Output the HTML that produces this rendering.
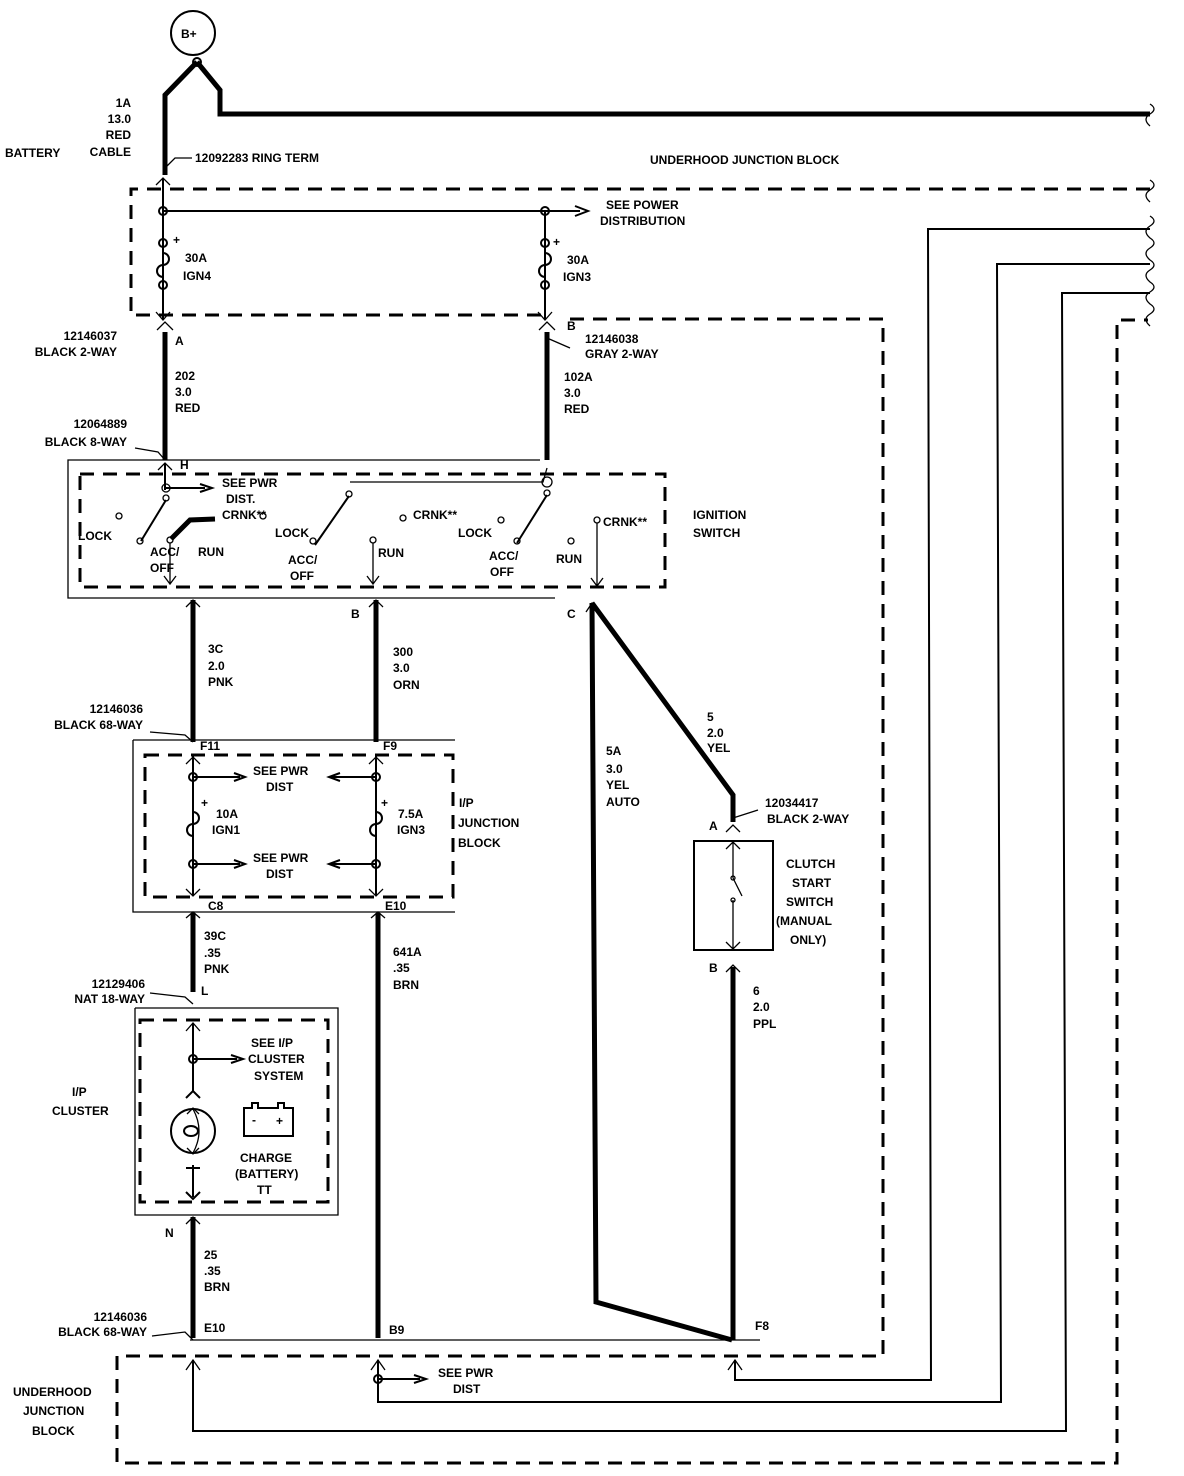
<!DOCTYPE html>
<html><head><meta charset="utf-8"><style>
html,body{margin:0;padding:0;background:#fff}
svg{display:block}
text{font-family:"Liberation Sans",sans-serif;font-weight:bold;font-size:12px;fill:#000}
.t{stroke:#000;stroke-width:5;fill:none}
.m{stroke:#000;stroke-width:2;fill:none}
.n{stroke:#000;stroke-width:1.3;fill:none}
.d{stroke:#000;stroke-width:3;fill:none;stroke-dasharray:14 9}
</style></head><body>
<svg width="1184" height="1476" viewBox="0 0 1184 1476" xmlns="http://www.w3.org/2000/svg">
<!-- B+ -->
<circle cx="193" cy="33" r="22" class="m" stroke-width="3"/>
<text x="181" y="38" font-size="13">B+</text>
<circle cx="197" cy="62" r="4" class="m"/>
<path class="t" d="M197 62 L165 95 L165 175"/>
<path class="t" d="M197 62 L220 90 L220 114 L1150 114"/>
<path class="n" d="M1150 104 q8 5 0 10 q-8 5 0 12"/>
<text x="131" y="107" text-anchor="end">1A</text>
<text x="131" y="123" text-anchor="end">13.0</text>
<text x="131" y="139" text-anchor="end">RED</text>
<text x="131" y="156" text-anchor="end">CABLE</text>
<text x="5" y="157">BATTERY</text>
<path class="n" d="M165 168 L175 158 L192 158"/>
<text x="195" y="162">12092283  RING TERM</text>
<text x="650" y="164" font-size="13">UNDERHOOD JUNCTION BLOCK</text>

<!-- underhood dashed outline -->
<path class="d" d="M1150 189 L131 189 L131 315 L545 315"/>
<path class="d" d="M570 319 L883 319 L883 1356 L117 1356 L117 1463 L1117 1463 L1117 320 L1148 320"/>
<path class="n" d="M1150 180 q8 5 0 10 q-8 5 0 12 M1150 216 q8 5 0 10 q-8 5 0 12 q8 5 0 10 q-8 5 0 12 q8 5 0 10 q-8 5 0 12 q8 5 0 10 q-8 5 0 12 q8 5 0 10 q-8 5 0 12"/>
<!-- nested right wires -->
<path class="m" d="M1150 229 L928 229 L931 1380 L735 1380 L735 1360"/>
<path class="m" d="M1150 264 L997 264 L1001 1402 L378 1402 L378 1360"/>
<path class="m" d="M1150 293 L1062 293 L1066 1431 L193 1431 L193 1360"/>
<path class="n" d="M728 1370 L735 1360 L742 1370 M371 1370 L378 1360 L385 1370 M186 1370 L193 1360 L200 1370"/>

<!-- fuses top -->
<path class="m" d="M163 178 L163 320"/>
<path class="n" d="M156 185 L163 178 L170 185"/>
<circle cx="163" cy="211" r="4" class="m" fill="#fff"/>
<path class="m" d="M163 211 L580 211"/><path class="m" d="M575 206 L588 211 L575 216"/>
<text x="606" y="209">SEE POWER</text><text x="600" y="225">DISTRIBUTION</text>
<circle cx="545" cy="211" r="4" class="m" fill="#fff"/>
<path class="m" d="M545 211 L545 320"/>
<text x="173" y="244" font-size="16">+</text><text x="553" y="246" font-size="16">+</text>
<circle cx="163" cy="243" r="4" class="m" fill="#fff"/><circle cx="545" cy="243" r="4" class="m" fill="#fff"/>
<path class="m" d="M163 247 v6 a6 6 0 0 1 0 12 a6 6 0 0 0 0 12 v4"/>
<path class="m" d="M545 247 v6 a6 6 0 0 1 0 12 a6 6 0 0 0 0 12 v4"/>
<circle cx="163" cy="285" r="4" class="m" fill="#fff"/><circle cx="545" cy="285" r="4" class="m" fill="#fff"/>
<text x="185" y="262">30A</text><text x="183" y="280">IGN4</text>
<text x="567" y="264">30A</text><text x="563" y="281">IGN3</text>
<path class="n" d="M156 312 L163 320 L170 312 M538 312 L545 320 L552 312"/>

<!-- connectors A/B -->
<path class="n" d="M157 330 L165 322 L173 330 M539 330 L547 322 L555 330"/>
<text x="175" y="345">A</text><text x="567" y="330">B</text>
<text x="117" y="340" text-anchor="end">12146037</text><text x="117" y="356" text-anchor="end">BLACK 2-WAY</text>
<path class="n" d="M547 338 L570 348"/>
<text x="585" y="343">12146038</text><text x="585" y="358">GRAY 2-WAY</text>
<path class="t" d="M165 332 L165 460"/><path class="t" d="M547 332 L547 460"/>
<text x="175" y="380">202</text><text x="175" y="396">3.0</text><text x="175" y="412">RED</text>
<text x="564" y="381">102A</text><text x="564" y="397">3.0</text><text x="564" y="413">RED</text>
<text x="127" y="428" text-anchor="end">12064889</text><text x="127" y="446" text-anchor="end">BLACK 8-WAY</text>
<path class="n" d="M135 448 L158 452 L165 460"/>

<!-- ignition switch -->
<path class="n" d="M540 460 L68 460 L68 598 L555 598"/>
<rect x="80" y="474" width="585" height="113" class="d" stroke-width="2.5" stroke-dasharray="12 8"/>
<text x="180" y="469">H</text>
<path class="n" d="M158 470 L165 463 L172 470"/>
<path class="m" d="M165 463 L165 490"/>
<circle cx="166" cy="488" r="4" class="n"/>
<path class="m" d="M166 488 L205 488"/><path class="m" d="M200 484 L212 488 L200 492"/>
<text x="222" y="487" font-size="11">SEE PWR</text><text x="226" y="503" font-size="11">DIST.</text><text x="222" y="519" font-size="11">CRNK**</text>
<circle cx="166" cy="498" r="3" class="n"/>
<path class="m" d="M166 500 L141 541"/>
<circle cx="119" cy="516" r="3" class="n"/><text x="78" y="540">LOCK</text>
<circle cx="140" cy="541" r="3" class="n"/><text x="150" y="556">ACC/</text><text x="150" y="572">OFF</text>
<path class="t" stroke-width="4" d="M171 539 L190 520 L215 519"/>
<circle cx="170" cy="540" r="3" class="n"/>
<path class="n" d="M170 543 L170 583 M164 576 L170 584 L176 576"/>
<text x="198" y="556">RUN</text>
<circle cx="263" cy="516" r="3" class="n"/><text x="275" y="537">LOCK</text>
<path class="n" d="M350 482 L543 482 L547 468"/>
<circle cx="547" cy="482" r="5" class="n"/>
<circle cx="349" cy="494" r="3" class="n"/>
<path class="m" d="M349 496 L315 545"/><circle cx="313" cy="541" r="3" class="n"/>
<text x="288" y="564">ACC/</text><text x="290" y="580">OFF</text>
<circle cx="373" cy="540" r="3" class="n"/>
<path class="n" d="M373 543 L373 583 M367 576 L373 584 L379 576"/>
<text x="378" y="557">RUN</text>
<circle cx="403" cy="518" r="3" class="n"/><text x="413" y="519" font-size="11">CRNK**</text>
<circle cx="501" cy="520" r="3" class="n"/><text x="458" y="537">LOCK</text>
<circle cx="547" cy="493" r="3" class="n"/>
<path class="m" d="M547 495 L517 543"/><circle cx="517" cy="541" r="3" class="n"/>
<text x="489" y="560">ACC/</text><text x="490" y="576">OFF</text>
<circle cx="571" cy="541" r="3" class="n"/><text x="556" y="563">RUN</text>
<circle cx="597" cy="520" r="3" class="n"/>
<path class="n" d="M597 523 L597 585 M591 578 L597 586 L603 578"/>
<text x="603" y="526" font-size="11">CRNK**</text>
<text x="693" y="519" font-weight="normal" font-size="14">IGNITION</text><text x="693" y="537" font-weight="normal" font-size="14">SWITCH</text>

<!-- below switch -->
<path class="n" d="M186 607 L193 600 L200 607 M369 607 L376 600 L383 607"/>
<path class="t" d="M193 600 L193 742"/><path class="t" d="M376 600 L376 742"/>
<text x="351" y="618">B</text><text x="567" y="618">C</text>
<text x="208" y="653">3C</text><text x="208" y="670">2.0</text><text x="208" y="686">PNK</text>
<text x="393" y="656">300</text><text x="393" y="672">3.0</text><text x="393" y="689">ORN</text>
<path class="t" d="M592 603 L733 795 L733 822"/>
<path class="t" d="M592 603 L596 1302 L732 1340"/>
<path class="n" d="M586 612 L592 603 L598 612"/>
<text x="606" y="755">5A</text><text x="606" y="773">3.0</text><text x="606" y="789">YEL</text><text x="606" y="806">AUTO</text>
<text x="707" y="721">5</text><text x="707" y="737">2.0</text><text x="707" y="752">YEL</text>

<!-- I/P junction block -->
<text x="143" y="713" text-anchor="end">12146036</text><text x="143" y="729" text-anchor="end">BLACK 68-WAY</text>
<path class="n" d="M150 732 L185 735 L193 742"/>
<path class="n" d="M133 740 L133 912 L455 912 M133 740 L455 740"/>
<rect x="145" y="755" width="308" height="142" class="d" stroke-width="2.5" stroke-dasharray="12 8"/>
<text x="200" y="750">F11</text><text x="383" y="750">F9</text>
<path class="m" d="M193 755 L193 895 M376 755 L376 895"/>
<path class="n" d="M186 764 L193 757 L200 764 M369 764 L376 757 L383 764 M186 889 L193 896 L200 889 M369 889 L376 896 L383 889"/>
<circle cx="193" cy="777" r="4" class="m" fill="#fff"/><circle cx="376" cy="777" r="4" class="m" fill="#fff"/>
<path class="m" d="M193 777 L240 777 M234 773 L245 777 L234 781"/>
<path class="m" d="M376 777 L330 777 M340 773 L329 777 L340 781"/>
<text x="253" y="775">SEE PWR</text><text x="266" y="791">DIST</text>
<path class="m" d="M193 808 v4 a6 6 0 0 1 0 12 a6 6 0 0 0 0 12 v4" fill="#fff"/>
<path class="m" d="M376 808 v4 a6 6 0 0 1 0 12 a6 6 0 0 0 0 12 v4" fill="#fff"/>
<text x="201" y="807" font-size="16">+</text><text x="381" y="807" font-size="16">+</text>
<text x="216" y="818">10A</text><text x="212" y="834">IGN1</text>
<text x="398" y="818">7.5A</text><text x="397" y="834">IGN3</text>
<circle cx="193" cy="864" r="4" class="m" fill="#fff"/><circle cx="376" cy="864" r="4" class="m" fill="#fff"/>
<path class="m" d="M193 864 L240 864 M234 860 L245 864 L234 868"/>
<path class="m" d="M376 864 L330 864 M340 860 L329 864 L340 868"/>
<text x="253" y="862">SEE PWR</text><text x="266" y="878">DIST</text>
<text x="459" y="807" font-weight="normal" font-size="14">I/P</text><text x="458" y="827" font-weight="normal" font-size="14">JUNCTION</text><text x="458" y="847" font-weight="normal" font-size="14">BLOCK</text>
<text x="208" y="910">C8</text><text x="385" y="910">E10</text>
<path class="n" d="M186 918 L193 912 L200 918 M371 918 L378 912 L385 918"/>
<path class="t" d="M193 913 L193 992"/><path class="t" d="M378 913 L378 1338"/>
<text x="204" y="940">39C</text><text x="204" y="957">.35</text><text x="204" y="973">PNK</text>
<text x="393" y="956">641A</text><text x="393" y="972">.35</text><text x="393" y="989">BRN</text>
<text x="145" y="988" text-anchor="end">12129406</text><text x="145" y="1003" text-anchor="end">NAT 18-WAY</text>
<path class="n" d="M150 993 L185 997 L193 1004"/>
<text x="201" y="995">L</text>

<!-- cluster -->
<path class="n" d="M135 1008 L338 1008 L338 1215 L135 1215 L135 1008"/>
<rect x="140" y="1020" width="188" height="182" class="d" stroke-width="2.5" stroke-dasharray="12 8"/>
<path class="n" d="M186 1031 L193 1023 L200 1031"/>
<path class="m" d="M193 1023 L193 1092 M186 1098 L193 1091 L200 1098"/>
<circle cx="193" cy="1059" r="4" class="m" fill="#fff"/>
<path class="m" d="M193 1059 L237 1059 M231 1055 L243 1059 L231 1063"/>
<text x="251" y="1047">SEE I/P</text><text x="248" y="1063">CLUSTER</text><text x="254" y="1080">SYSTEM</text>
<circle cx="193" cy="1131" r="22" class="m"/>
<ellipse cx="191" cy="1131" rx="7" ry="5" class="m"/>
<path class="n" d="M193 1109 Q205 1131 193 1153"/>
<path class="n" d="M187 1114 L193 1108 L199 1114 M187 1148 L193 1154 L199 1148"/>
<path class="m" d="M193 1165 L193 1197 M186 1168 L200 1168 M186 1192 L193 1199 L200 1192"/>
<path class="m" d="M244 1108 L252 1108 L252 1103 L258 1103 L258 1108 L278 1108 L278 1103 L284 1103 L284 1108 L293 1108 L293 1136 L244 1136 Z"/>
<text x="252" y="1124" font-size="11">-</text><text x="276" y="1125" font-size="11">+</text>
<text x="240" y="1162">CHARGE</text><text x="235" y="1178">(BATTERY)</text><text x="257" y="1194">TT</text>
<text x="72" y="1096" font-weight="normal" font-size="14">I/P</text><text x="52" y="1115" font-weight="normal" font-size="14">CLUSTER</text>
<path class="n" d="M186 1224 L193 1217 L200 1224"/>
<path class="t" d="M193 1217 L193 1338"/>
<text x="165" y="1237">N</text>
<text x="204" y="1259">25</text><text x="204" y="1275">.35</text><text x="204" y="1291">BRN</text>
<text x="147" y="1321" text-anchor="end">12146036</text><text x="147" y="1336" text-anchor="end">BLACK 68-WAY</text>
<path class="n" d="M152 1336 L185 1332 L193 1340"/>
<text x="204" y="1332">E10</text><text x="389" y="1334">B9</text><text x="755" y="1330">F8</text>
<path class="n" d="M190 1340 L760 1340"/>

<!-- bottom underhood -->
<circle cx="378" cy="1379" r="4" class="m" fill="#fff"/>
<path class="m" d="M378 1379 L420 1379 M414 1375 L426 1379 L414 1383"/>
<text x="438" y="1377">SEE PWR</text><text x="453" y="1393">DIST</text>
<text x="13" y="1396" font-weight="normal" font-size="14">UNDERHOOD</text><text x="23" y="1415" font-weight="normal" font-size="14">JUNCTION</text><text x="32" y="1435" font-weight="normal" font-size="14">BLOCK</text>

<!-- clutch switch -->
<text x="765" y="807">12034417</text><text x="767" y="823">BLACK 2-WAY</text>
<path class="n" d="M733 818 L758 810"/>
<text x="709" y="830">A</text>
<path class="n" d="M726 832 L733 825 L740 832"/>
<rect x="694" y="841" width="79" height="109" class="m" stroke-width="2.5"/>
<path class="n" d="M733 842 L733 878 M726 849 L733 842 L740 849 M733 900 L733 949 M726 942 L733 949 L740 942 M733 878 L742 896"/>
<circle cx="733" cy="878" r="2" class="n"/><circle cx="733" cy="900" r="2" class="n"/>
<text x="786" y="868" font-weight="normal" font-size="14">CLUTCH</text><text x="792" y="887" font-weight="normal" font-size="14">START</text><text x="786" y="906" font-weight="normal" font-size="14">SWITCH</text><text x="776" y="925" font-weight="normal" font-size="14">(MANUAL</text><text x="790" y="944" font-weight="normal" font-size="14">ONLY)</text>
<text x="709" y="972">B</text>
<path class="n" d="M726 972 L733 965 L740 972"/>
<path class="t" d="M733 967 L733 1340"/>
<text x="753" y="995">6</text><text x="753" y="1011">2.0</text><text x="753" y="1028">PPL</text>
</svg>
</body></html>
